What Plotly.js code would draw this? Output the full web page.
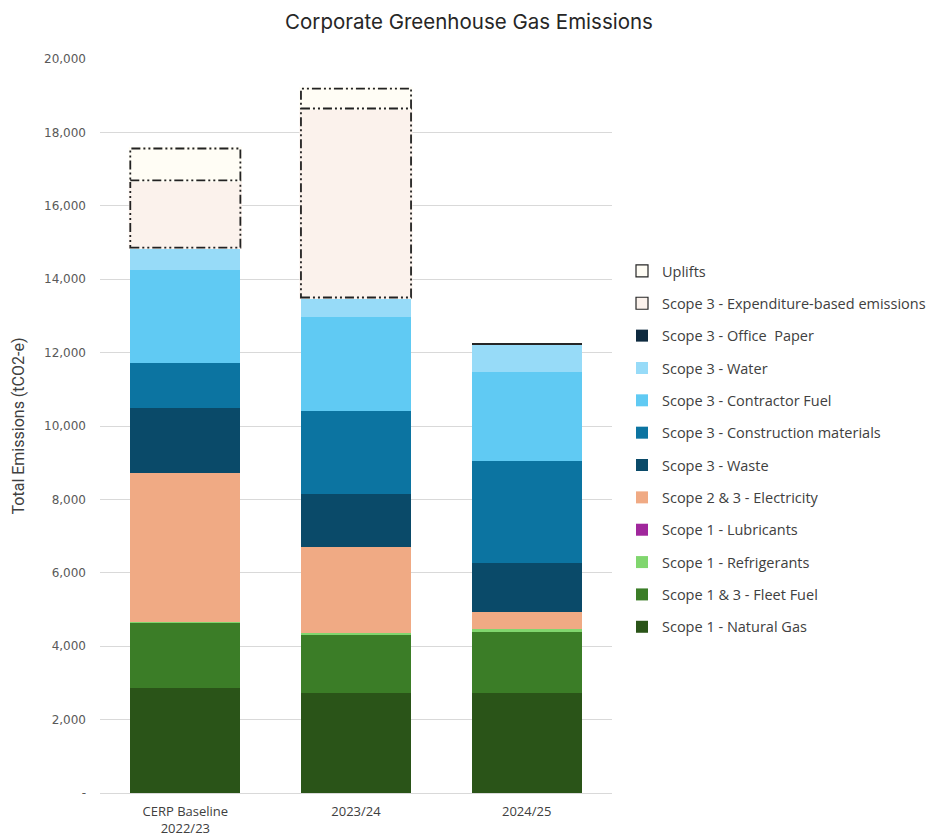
<!DOCTYPE html>
<html>
<head>
<meta charset="utf-8">
<script src="https://cdn.plot.ly/plotly-3.0.1.min.js"></script>
<style>
  html, body { margin: 0; padding: 0; background: #ffffff; }
  #chart { width: 938px; height: 839px; }
</style>
</head>
<body>
<div id="chart"></div>
<script>
// Reporting periods
const categories = ["CERP Baseline<br>2022/23", "2023/24", "2024/25"];

// Emissions by source, tCO2-e
const naturalGas       = [2860, 2720, 2730];
const fleetFuel        = [1770, 1590, 1660];
const refrigerants     = [40, 40, 90];
const lubricants       = [1, 1, 1];
const electricity      = [4050, 2350, 450];
const waste            = [1770, 1450, 1340];
const constructionMat  = [1230, 2260, 2780];
const contractorFuel   = [2530, 2560, 2420];
const water            = [600, 520, 740];
const officePaper      = [10, 10, 25];
const expenditureBased = [1830, 5150, 0];
const uplifts          = [870, 540, 0];

// Y axis ticks (accounting style: zero shown as a dash)
const yTickVals = [0, 2000, 4000, 6000, 8000, 10000, 12000, 14000, 16000, 18000, 20000];
const yTickText = ["-", "2,000", "4,000", "6,000", "8,000", "10,000", "12,000", "14,000", "16,000", "18,000", "20,000"];

const BAR_WIDTH = 0.645;
const xPos = categories.map((_, i) => i);

// Stack order, bottom to top
const series = [
  { name: "Scope 1 - Natural Gas", y: naturalGas, color: "#2A5418" },
  { name: "Scope 1 & 3 - Fleet Fuel", y: fleetFuel, color: "#3B7D27" },
  { name: "Scope 1 - Refrigerants", y: refrigerants, color: "#80D66E" },
  { name: "Scope 1 - Lubricants", y: lubricants, color: "#A0279C" },
  { name: "Scope 2 & 3 - Electricity", y: electricity, color: "#F0AA84" },
  { name: "Scope 3 - Waste", y: waste, color: "#0A4A69" },
  { name: "Scope 3 - Construction materials", y: constructionMat, color: "#0C74A1" },
  { name: "Scope 3 - Contractor Fuel", y: contractorFuel, color: "#60CAF3" },
  { name: "Scope 3 - Water", y: water, color: "#97DBF8" },
  { name: "Scope 3 - Office  Paper", y: officePaper, color: "#0E2A3F" },
  { name: "Scope 3 - Expenditure-based emissions", y: expenditureBased, color: "#FBF2EC", dashed: true },
  { name: "Uplifts", y: uplifts, color: "#FFFDF5", dashed: true }
];

// Legend lists the top of the stack first
const traces = series.map((s, k) => ({
  type: "bar",
  name: s.name,
  x: xPos,
  y: s.y,
  width: BAR_WIDTH,
  legendgroup: "g" + k,
  legendrank: 100 - k,
  marker: {
    color: s.color,
    line: s.dashed ? { color: "#262626", width: 1.2 } : { width: 0 }
  },
  hoverinfo: "skip"
}));

// Dash-dot outlines around the estimated components, placed on the data scale
const shapes = [];
const DASH = "9px,3px,2px,3px,2px,3px";
xPos.forEach((x, i) => {
  let base = 0;
  series.forEach(s => {
    const v = s.y[i];
    if (s.dashed && v > 0) {
      const rect = { type: "rect", xref: "x", yref: "y",
        x0: x - BAR_WIDTH / 2, x1: x + BAR_WIDTH / 2, y0: base, y1: base + v };
      shapes.push(Object.assign({}, rect, { line: { color: s.color, width: 3 }, fillcolor: "rgba(0,0,0,0)" }));
      shapes.push(Object.assign({}, rect, { line: { color: "#222222", width: 1.8, dash: DASH }, fillcolor: "rgba(0,0,0,0)" }));
    }
    base += v;
  });
});

const layout = {
  width: 938,
  height: 839,
  paper_bgcolor: "#ffffff",
  plot_bgcolor: "#ffffff",
  margin: { l: 100, r: 326, t: 59, b: 46, autoexpand: false },
  barmode: "stack",
  bargap: 0,
  title: {
    text: "Corporate Greenhouse Gas Emissions",
    font: { family: "Inter, 'Open Sans', sans-serif", size: 20.5, color: "#262626" },
    x: 0.5, xref: "container", xanchor: "center",
    y: 1 - 22 / 839, yref: "container", yanchor: "middle"
  },
  xaxis: {
    range: [-0.5, 2.5],
    tickvals: xPos,
    ticktext: categories,
    tickfont: { family: "'Open Sans', sans-serif", size: 13, color: "#404040" },
    ticklabelstandoff: 9,
    showgrid: false,
    zeroline: false,
    showline: false,
    ticks: "",
    fixedrange: true
  },
  yaxis: {
    range: [0, 20000],
    tickvals: yTickVals,
    ticktext: yTickText,
    tickfont: { family: "'DejaVu Sans', sans-serif", size: 12, color: "#595959" },
    ticklabelstandoff: 13,
    showgrid: true,
    gridcolor: "#D9D9D9",
    gridwidth: 1,
    zeroline: true,
    zerolinecolor: "#D9D9D9",
    zerolinewidth: 1,
    showline: false,
    ticks: "",
    title: {
      text: "Total Emissions (tCO2-e)",
      font: { family: "Roboto, sans-serif", size: 16, color: "#404040" },
      standoff: 15
    },
    fixedrange: true
  },
  legend: {
    xref: "container",
    x: 622 / 938, xanchor: "left",
    yref: "container",
    y: 1 - 255 / 839, yanchor: "top",
    traceorder: "grouped",
    tracegroupgap: 10.5,
    font: { family: "'Open Sans', sans-serif", size: 14.5, color: "#404040" },
    itemwidth: 30,
    bgcolor: "rgba(0,0,0,0)"
  },
  shapes: shapes,
  showlegend: true
};

Plotly.newPlot("chart", traces, layout, { displayModeBar: false, staticPlot: true });
</script>
</body>
</html>
